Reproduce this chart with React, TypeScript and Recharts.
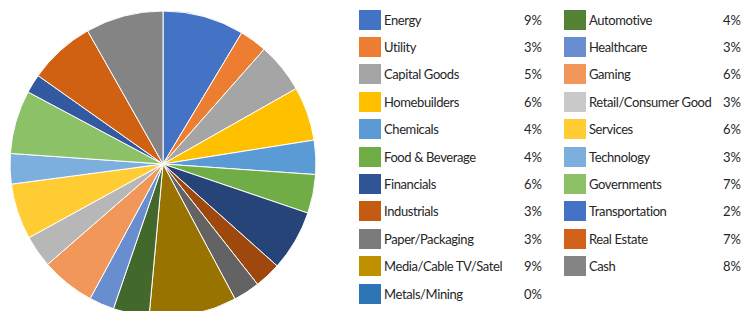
import React from "react";
import { PieChart, Pie, Cell, Legend } from "recharts";

const categories = [
  "Energy", "Utility", "Capital Goods", "Homebuilders", "Chemicals", "Food & Beverage",
  "Financials", "Industrials", "Paper/Packaging", "Media/Cable TV/Satel", "Metals/Mining",
  "Automotive", "Healthcare", "Gaming", "Retail/Consumer Good", "Services", "Technology",
  "Governments", "Transportation", "Real Estate", "Cash",
];
const values = [
  8.6, 2.9, 5.3, 5.7, 3.6, 4.1, 6.4, 2.8, 2.8, 9.25, 0,
  3.8, 2.65, 5.7, 3.4, 5.9, 3.2, 6.7, 2.0, 7.0, 8.2,
];
const percentLabels = [
  "9%", "3%", "5%", "6%", "4%", "4%", "6%", "3%", "3%", "9%", "0%",
  "4%", "3%", "6%", "3%", "6%", "3%", "7%", "2%", "7%", "8%",
];

const sliceColors = [
  "#4472C4", "#ED7D31", "#A5A5A5", "#FFC000", "#5B9BD5", "#70AD47",
  "#264478", "#9E480E", "#636363", "#997300", "#255E91",
  "#43682B", "#698ED0", "#F1975A", "#B7B7B7", "#FFCD33", "#7CAFDD",
  "#8CC168", "#3359A0", "#D06012", "#848484",
];
const legendColors = [
  "#4472C4", "#ED7D31", "#A5A5A5", "#FFC000", "#5B9BD5", "#70AD47",
  "#2F5597", "#C55A11", "#7B7B7B", "#BF9000", "#2E75B6",
  "#548235", "#698ED0", "#F1975A", "#C9C9C9", "#FFCD33", "#7CAFDD",
  "#8CC168", "#4472C4", "#D2611C", "#848484",
];

const data = categories.map((name, i) => ({ name, value: values[i] }));

const FONT = "Lato, 'Open Sans', sans-serif";

function LegendContent() {
  const rowH = 27.4;
  const cols = [
    { sq: 359, text: 384, pctRight: 542, start: 0, count: 11 },
    { sq: 564, text: 589, pctRight: 741, start: 11, count: 10 },
  ];
  return (
    <div style={{ position: "relative", width: 741, height: 311, fontFamily: FONT, fontSize: 13, color: "#262626" }}>
      {cols.map((c) =>
        Array.from({ length: c.count }).map((_, j) => {
          const i = c.start + j;
          const cy = 19.5 + j * rowH;
          return (
            <React.Fragment key={i}>
              <div style={{ position: "absolute", left: c.sq, top: cy - 10, width: 22, height: 20, background: legendColors[i] }} />
              <div style={{ position: "absolute", left: c.text, top: cy - 9, lineHeight: "18px", whiteSpace: "nowrap", letterSpacing: "-0.4px" }}>{categories[i]}</div>
              <div style={{ position: "absolute", right: 741 - c.pctRight, top: cy - 9, lineHeight: "18px", whiteSpace: "nowrap" }}>{percentLabels[i]}</div>
            </React.Fragment>
          );
        })
      )}
    </div>
  );
}

export default function App() {
  return (
    <div style={{ position: "absolute", left: 0, top: 0, width: 741, height: 311, background: "#fff" }}>
      <PieChart width={741} height={311} margin={{ top: 0, right: 0, bottom: 0, left: 0 }}>
        <Pie
          data={data}
          dataKey="value"
          nameKey="name"
          cx={163}
          cy={164}
          outerRadius={153}
          startAngle={90}
          endAngle={-270}
          stroke="#ffffff"
          strokeWidth={1}
          isAnimationActive={false}
        >
          {data.map((d, i) => (
            <Cell key={d.name} fill={sliceColors[i]} />
          ))}
        </Pie>
        <Legend content={<LegendContent />} wrapperStyle={{ left: 0, top: 0, width: 741, height: 311 }} />
      </PieChart>
    </div>
  );
}
